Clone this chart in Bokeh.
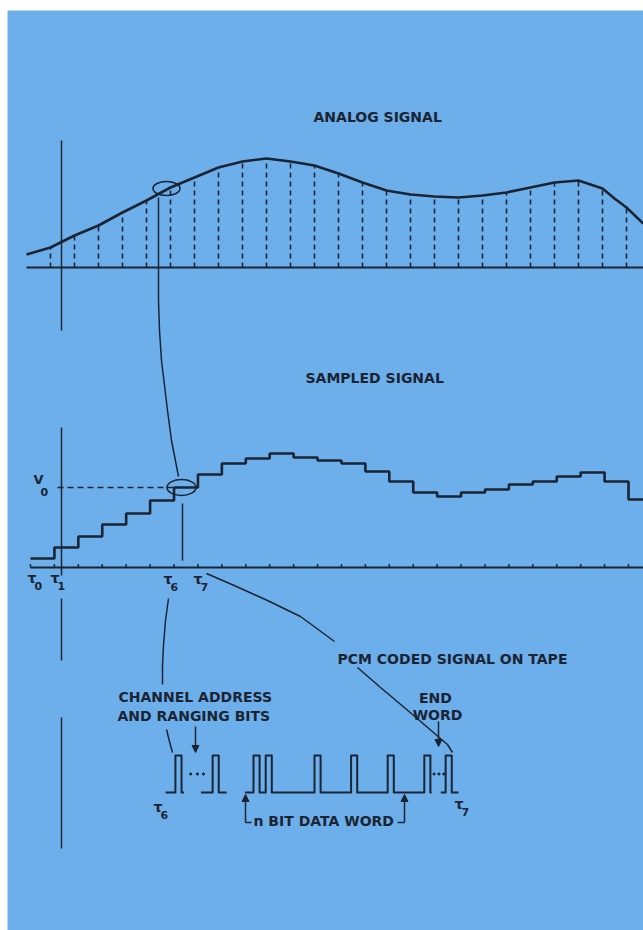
from bokeh.plotting import figure
from bokeh.models import Range1d, Arrow, NormalHead
from bokeh.core.properties import value
from bokeh.embed import file_html
from bokeh.resources import INLINE

# ---------------- data ----------------
# analog signal: time in sample periods, amplitude in arbitrary volts
CURVE_T = [-1.0, 0, 1, 2, 3, 4, 5, 6, 7, 8, 9, 10, 11, 12, 13, 14, 15, 16,
           17, 18, 19, 20, 21, 22, 23, 23.5, 24, 24.7]
CURVE_V = [1.3, 2.0, 3.2, 4.2, 5.5, 6.7, 8.0, 9.0, 10.0, 10.6, 10.9, 10.6, 10.2,
           9.4, 8.5, 7.7, 7.3, 7.1, 7.0, 7.2, 7.5, 8.0, 8.5, 8.7, 7.9, 6.9, 6.0, 4.4]
SAMPLE_T = list(range(25))
SAMPLE_V = [2.0, 3.2, 4.2, 5.5, 6.7, 8.0, 9.0, 10.0, 10.6, 10.9, 10.6, 10.2,
            9.4, 8.5, 7.7, 7.3, 7.1, 7.0, 7.2, 7.5, 8.0, 8.5, 8.7, 7.9, 6.0]

# sampled (held) signal: level held from tau_n to tau_n+1
TAU_N = list(range(26))
HELD_V = [0.9, 2.0, 3.1, 4.3, 5.4, 6.7, 8.0, 9.3, 10.4, 10.9, 11.4, 11.0, 10.7,
          10.4, 9.6, 8.6, 7.5, 7.1, 7.5, 7.8, 8.3, 8.6, 9.1, 9.5, 8.6, 6.8]
V0_INDEX = 6

# PCM word between tau6 and tau7, in bit periods: (start, end, pulse starts)
PCM_GROUPS = [(-0.2, 1.3, [0.6]),
              (2.7, 4.8, [3.65]),
              (6.3, 21.6, [7, 8, 12, 15, 18, 21]),
              (22.35, 23.8, [22.75])]
PULSE_WIDTH = 0.5
DOTS_B = [1.85, 2.4, 2.9, 21.8, 22.2, 22.6]

# ---------------- styling / page geometry ----------------
BG = "#6DAFEA"
INK = "#1b2433"
FONT = value("DejaVu Sans")
W, H = 643, 930
LEFT, TOP = 7, 10          # white paper margin of the scan

p = figure(width=W, height=H, x_range=Range1d(LEFT, W), y_range=Range1d(H, TOP),
           output_backend="svg", toolbar_location=None,
           min_border_left=LEFT, min_border_top=TOP, min_border_right=0, min_border_bottom=0,
           x_axis_location=None, y_axis_location=None,
           background_fill_color=BG, border_fill_color="white", outline_line_color=None)
p.grid.visible = False


def xr(origin, step):
    return Range1d((LEFT - origin) / step, (W - origin) / step)


def yr(base, step):
    return Range1d((base - H) / step, (base - TOP) / step)


# scales for each panel (page px <-> data units)
p.extra_x_ranges = {"at": xr(50, 24.0), "tau": xr(30, 23.92), "bit": xr(167.6, 12.2)}
p.extra_y_ranges = {"av": yr(267, 10.0), "sv": yr(567, 10.0), "pl": yr(792, 37.0)}


def label(x, y, s, size="14px", align="left", bold=True):
    p.text(x=[x], y=[y], text=[s], text_font=FONT, text_font_size=size,
           text_font_style="bold" if bold else "normal", text_color=INK,
           text_align=align, text_baseline="middle")


def tau(x, y, sub, sx=7, sy=8):
    label(x, y, "\u03c4", size="14px")
    label(x + sx, y + sy, sub, size="11px")


# ---------------- analog panel ----------------
p.line(x=[CURVE_T[0], CURVE_T[-1] + 0.1], y=[0, 0], x_range_name="at", y_range_name="av",
       line_color=INK, line_width=2)
p.segment(x0=SAMPLE_T, y0=[0] * len(SAMPLE_T), x1=SAMPLE_T, y1=SAMPLE_V,
          x_range_name="at", y_range_name="av", line_color=INK, line_width=1.6,
          line_dash="5 4")
p.line(x=CURVE_T, y=CURVE_V, x_range_name="at", y_range_name="av",
       line_color=INK, line_width=2.6, line_join="round")
p.line(x=[61, 61], y=[140, 330], line_color=INK, line_width=1.5)
p.ellipse(x=[166], y=[188], width=[27], height=[14], width_units="screen",
          height_units="screen", fill_alpha=0, line_color=INK, line_width=1.6)
# tau6 line descending to the sampled signal
p.line(x=[158, 158, 159, 161, 164, 167, 171, 178],
       y=[197, 300, 330, 360, 385, 410, 440, 476], line_color=INK, line_width=1.5)
label(313, 116, "ANALOG SIGNAL")

# ---------------- sampled panel ----------------
label(305, 377, "SAMPLED SIGNAL")
p.line(x=[0, 25.63], y=[0, 0], x_range_name="tau", y_range_name="sv",
       line_color=INK, line_width=2)
p.segment(x0=TAU_N, y0=[0] * len(TAU_N), x1=TAU_N, y1=[0.35] * len(TAU_N),
          x_range_name="tau", y_range_name="sv", line_color=INK, line_width=1.5)
p.step(x=TAU_N + [25.63], y=HELD_V + [HELD_V[-1]], mode="after",
       x_range_name="tau", y_range_name="sv", line_color=INK, line_width=2.6)
p.line(x=[1.13, TAU_N[V0_INDEX] - 0.05], y=[HELD_V[V0_INDEX]] * 2,
       x_range_name="tau", y_range_name="sv", line_color=INK, line_width=1.5,
       line_dash="6 4")
p.line(x=[61, 61], y=[427, 575], line_color=INK, line_width=1.5)
p.line(x=[182, 182], y=[503, 560], line_color=INK, line_width=1.5)
p.ellipse(x=[181], y=[487], width=[29], height=[16], width_units="screen",
          height_units="screen", fill_alpha=0, line_color=INK, line_width=1.6)
label(33, 479, "V", size="13px")
label(40, 491, "0", size="11px")
tau(27, 577, "0")
tau(50, 577, "1")
tau(163, 578, "6")
tau(193, 578, "7")

# ---------------- PCM panel ----------------
p.line(x=[61, 61], y=[598, 660], line_color=INK, line_width=1.5)
p.line(x=[61, 61], y=[717, 848], line_color=INK, line_width=1.5)
# connectors from tau6 / tau7
p.line(x=[168, 165, 163, 162, 162], y=[598, 620, 645, 665, 684], line_color=INK, line_width=1.5)
p.line(x=[166, 169, 172], y=[729, 741, 752], line_color=INK, line_width=1.5)
p.line(x=[206, 236, 267, 300, 334], y=[573, 586, 600, 616, 641], line_color=INK, line_width=1.5)
p.line(x=[357, 380, 405, 433, 441, 447, 452], y=[667, 687, 708, 732, 739, 744, 752],
       line_color=INK, line_width=1.5)

for start, end, pulses in PCM_GROUPS:
    xs, ys = [start], [0]
    for b in pulses:
        xs += [b, b, b + PULSE_WIDTH, b + PULSE_WIDTH]
        ys += [0, 1, 1, 0]
    xs.append(end)
    ys.append(0)
    p.line(x=xs, y=ys, x_range_name="bit", y_range_name="pl", line_color=INK,
           line_width=2, line_join="round")
p.scatter(x=DOTS_B, y=[0.5] * len(DOTS_B), x_range_name="bit", y_range_name="pl",
          size=2.2, color=INK)

head = dict(size=7, fill_color=INK, line_color=INK)
p.add_layout(Arrow(end=NormalHead(**head), x_start=195, y_start=726, x_end=195, y_end=752,
                   line_color=INK, line_width=1.5))
p.add_layout(Arrow(end=NormalHead(**head), x_start=438, y_start=721, x_end=438, y_end=746,
                   line_color=INK, line_width=1.5))
p.line(x=[251, 245], y=[822, 822], line_color=INK, line_width=1.5)
p.add_layout(Arrow(end=NormalHead(**head), x_start=245, y_start=822, x_end=245, y_end=794,
                   line_color=INK, line_width=1.5))
p.line(x=[397, 404], y=[822, 822], line_color=INK, line_width=1.5)
p.add_layout(Arrow(end=NormalHead(**head), x_start=404, y_start=822, x_end=404, y_end=794,
                   line_color=INK, line_width=1.5))

label(337, 658, "PCM CODED SIGNAL ON TAPE")
label(118, 696, "CHANNEL ADDRESS")
label(117, 715, "AND RANGING BITS")
label(435, 697, "END", align="center")
label(437, 714, "WORD", align="center")
label(253, 820, "n BIT DATA WORD")
tau(153, 806, "6")
tau(454, 803, "7")

open("out.html", "w").write(file_html(p, INLINE))
